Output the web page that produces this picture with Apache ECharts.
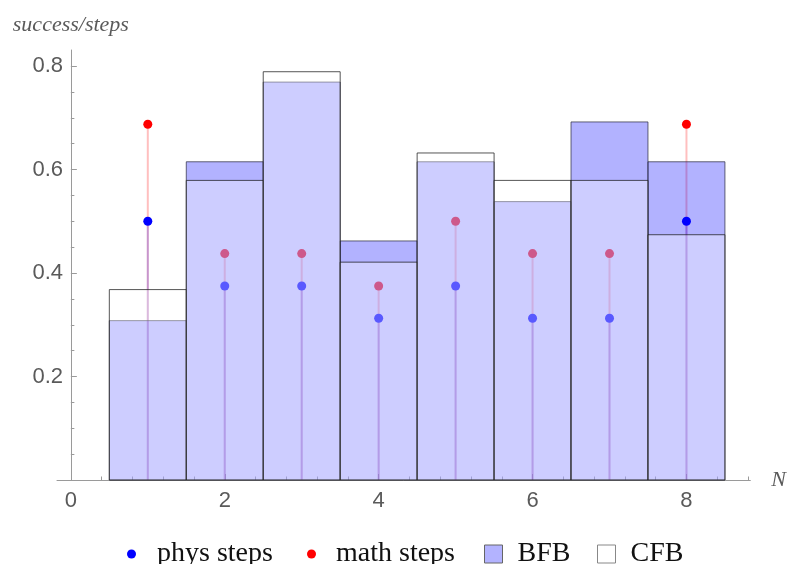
<!DOCTYPE html>
<html>
<head>
<meta charset="utf-8">
<script src="https://cdn.jsdelivr.net/npm/echarts@6/dist/echarts.min.js"></script>
<style>html,body{margin:0;padding:0;background:#fff}#c{width:789px;height:564px}</style>
</head>
<body>
<div id="c"></div>
<script>
// ---- data ----
const N = [1, 2, 3, 4, 5, 6, 7, 8];
const bfb = [0.308, 0.615, 0.769, 0.462, 0.615, 0.538, 0.692, 0.615];
const cfb = [0.368, 0.579, 0.789, 0.421, 0.632, 0.579, 0.579, 0.474];
const physSteps = [0.5, 0.375, 0.375, 0.3125, 0.375, 0.3125, 0.3125, 0.5];
const mathSteps = [0.6875, 0.4375, 0.4375, 0.375, 0.5, 0.4375, 0.4375, 0.6875];
const xTicks = [0, 2, 4, 6, 8];
const xMinorTicks = [0.4, 0.8, 1.2, 1.6, 2.4, 2.8, 3.2, 3.6, 4.4, 4.8, 5.2, 5.6, 6.4, 6.8, 7.2, 7.6, 8.4, 8.8];
const yTicks = [0.2, 0.4, 0.6, 0.8];
const yMinorTicks = [0.05, 0.1, 0.15, 0.25, 0.3, 0.35, 0.45, 0.5, 0.55, 0.65, 0.7, 0.75];
const binWidth = 1;

const X_MIN = -0.18, X_MAX = 8.83, Y_MIN = 0, Y_MAX = 0.831;

const pairs = ys => N.map((n, i) => [n, ys[i]]);

function barRenderer(fill, stroke) {
  return function (params, api) {
    const n = api.value(0), v = api.value(1);
    const p0 = api.coord([n - binWidth / 2, v]);
    const p1 = api.coord([n + binWidth / 2, 0]);
    return {
      type: 'rect',
      shape: { x: p0[0], y: p0[1], width: p1[0] - p0[0], height: p1[1] - p0[1] },
      style: { fill: fill, stroke: stroke, lineWidth: 1 }
    };
  };
}
function stemRenderer(color) {
  return function (params, api) {
    const n = api.value(0), v = api.value(1);
    const a = api.coord([n, 0]), b = api.coord([n, v]);
    return {
      type: 'line',
      shape: { x1: a[0], y1: a[1], x2: b[0], y2: b[1] },
      style: { stroke: color, lineWidth: 2 }
    };
  };
}

const AX = '#9a9a9a';
const LBL = '#5a5a5a';
const serif = '"Liberation Serif", "DejaVu Serif", serif';
const sans = '"Liberation Sans", Arial, sans-serif';
const legendText = { fontFamily: serif, fontSize: 28, color: '#111' };
const withPad = p => Object.assign({ padding: [0, 0, 0, p] }, legendText);

const chart = echarts.init(document.getElementById('c'));
chart.setOption({
  animation: false,
  backgroundColor: '#fff',
  grid: { left: 57, right: 34, top: 50, bottom: 84, containLabel: false },
  xAxis: [
    {
      type: 'value', min: X_MIN, max: X_MAX, position: 'bottom',
      name: 'N', nameLocation: 'end', nameGap: 21,
      nameTextStyle: { fontFamily: serif, fontStyle: 'italic', fontSize: 22, color: LBL },
      axisLine: { show: true, onZero: true, onZeroAxisIndex: 0, lineStyle: { color: AX, width: 1 } },
      axisTick: { show: true, inside: true, length: 6, customValues: xTicks, lineStyle: { color: AX } },
      axisLabel: { show: true, customValues: xTicks, margin: 10, fontFamily: sans, fontSize: 22, color: LBL },
      splitLine: { show: false }
    },
    {
      type: 'value', min: X_MIN, max: X_MAX, position: 'bottom',
      axisLine: { show: false, onZero: true, onZeroAxisIndex: 1 },
      axisTick: { show: true, inside: true, length: 3.5, customValues: xMinorTicks, lineStyle: { color: AX } },
      axisLabel: { show: false },
      splitLine: { show: false }
    }
  ],
  yAxis: [
    {
      type: 'value', min: Y_MIN, max: Y_MAX, position: 'left',
      name: 'success/steps', nameLocation: 'end', nameGap: 14,
      nameTextStyle: { fontFamily: serif, fontStyle: 'italic', fontSize: 22, color: LBL },
      axisLine: { show: true, onZero: true, onZeroAxisIndex: 0, lineStyle: { color: AX, width: 1 } },
      axisTick: { show: true, inside: true, length: 6, customValues: yTicks, lineStyle: { color: AX } },
      axisLabel: { show: true, customValues: yTicks, margin: -6, fontFamily: sans, fontSize: 22, color: LBL },
      splitLine: { show: false }
    },
    {
      type: 'value', min: Y_MIN, max: Y_MAX, position: 'left',
      axisLine: { show: false, onZero: true, onZeroAxisIndex: 1 },
      axisTick: { show: true, inside: true, length: 3.5, customValues: yMinorTicks, lineStyle: { color: AX } },
      axisLabel: { show: false },
      splitLine: { show: false }
    }
  ],
  legend: [
    { data: [{ name: 'phys steps', icon: 'circle' }], left: 122, top: 535, itemWidth: 9, itemHeight: 9, textStyle: withPad(16) },
    { data: [{ name: 'math steps', icon: 'circle' }], left: 302, top: 535, itemWidth: 9, itemHeight: 9, textStyle: withPad(15) },
    { data: [{ name: 'BFB', icon: 'rect', itemStyle: { color: '#b3b3ff', borderColor: '#666', borderWidth: 1 } }],
      left: 479, top: 535, itemWidth: 18, itemHeight: 18, textStyle: withPad(10) },
    { data: [{ name: 'CFB', icon: 'rect', itemStyle: { color: '#fff', borderColor: '#888', borderWidth: 1 } }],
      left: 592, top: 535, itemWidth: 18, itemHeight: 18, textStyle: withPad(10) }
  ],
  series: [
    {
      name: 'math stem', type: 'custom', xAxisIndex: 0, yAxisIndex: 0, z: 1,
      encode: { x: 0, y: 1 }, data: pairs(mathSteps),
      renderItem: stemRenderer('rgba(255,0,0,0.25)')
    },
    {
      name: 'phys stem', type: 'custom', xAxisIndex: 0, yAxisIndex: 0, z: 1,
      encode: { x: 0, y: 1 }, data: pairs(physSteps),
      renderItem: stemRenderer('rgba(0,0,255,0.22)')
    },
    {
      name: 'math steps', type: 'scatter', xAxisIndex: 0, yAxisIndex: 0, z: 2,
      symbol: 'circle', symbolSize: 9, itemStyle: { color: '#ff0000', opacity: 1 },
      data: pairs(mathSteps)
    },
    {
      name: 'phys steps', type: 'scatter', xAxisIndex: 0, yAxisIndex: 0, z: 2,
      symbol: 'circle', symbolSize: 9, itemStyle: { color: '#0000ff', opacity: 1 },
      data: pairs(physSteps)
    },
    {
      name: 'BFB', type: 'custom', xAxisIndex: 0, yAxisIndex: 0, z: 3,
      itemStyle: { color: '#b3b3ff' },
      encode: { x: 0, y: 1 },
      data: pairs(bfb),
      renderItem: barRenderer('rgba(0,0,255,0.3)', 'rgba(40,40,60,0.7)')
    },
    {
      name: 'CFB', type: 'custom', xAxisIndex: 0, yAxisIndex: 0, z: 4,
      itemStyle: { color: '#ffffff' },
      encode: { x: 0, y: 1 },
      data: pairs(cfb),
      renderItem: barRenderer('rgba(255,255,255,0.35)', 'rgba(30,30,30,0.75)')
    }
  ]
});
</script>
</body>
</html>
